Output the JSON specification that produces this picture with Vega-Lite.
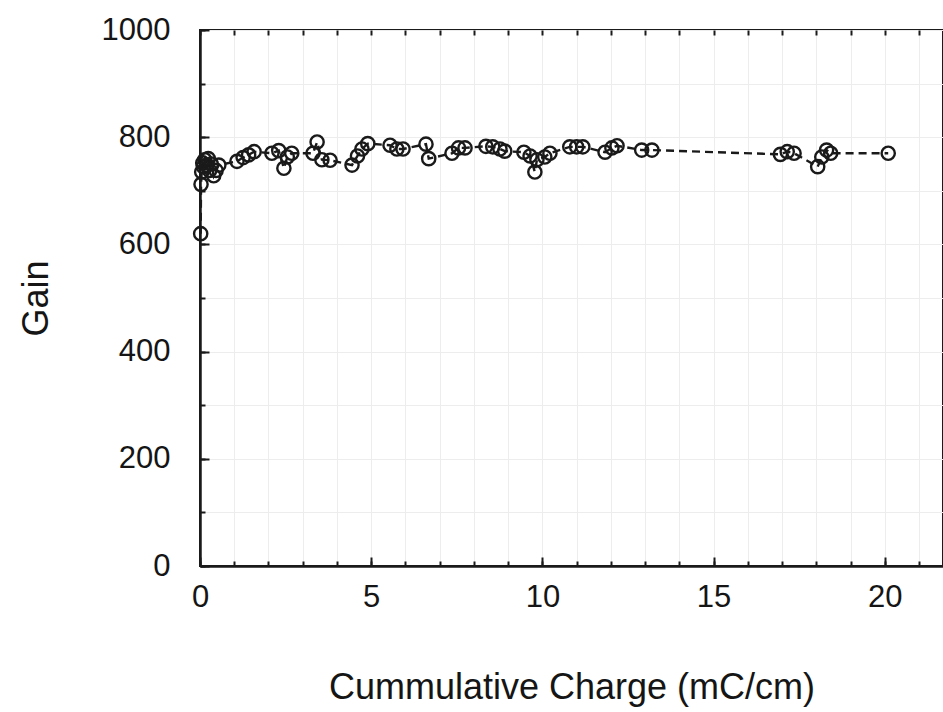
{
  "$schema": "https://vega.github.io/schema/vega-lite/v6.json",
  "autosize": "none",
  "width": 743,
  "height": 536,
  "padding": {"left": 200, "top": 30, "right": 0, "bottom": 146},
  "background": "white",
  "config": {
    "view": {"stroke": "#1a1a1a", "strokeWidth": 2},
    "axis": {
      "labelFont": "Liberation Sans",
      "titleFont": "Liberation Sans",
      "labelColor": "#151515",
      "titleColor": "#151515",
      "labelFontWeight": "normal",
      "titleFontWeight": "normal",
      "domainColor": "#1a1a1a",
      "domainWidth": 2,
      "tickColor": "#1a1a1a",
      "tickWidth": 2,
      "gridColor": "#ededed",
      "gridWidth": 1
    }
  },
  "data": {"values": [
    {"q": 0.02, "gain": 620}, {"q": 0.03, "gain": 712}, {"q": 0.05, "gain": 735}, {"q": 0.08, "gain": 752},
    {"q": 0.1, "gain": 745}, {"q": 0.14, "gain": 758}, {"q": 0.2, "gain": 748}, {"q": 0.24, "gain": 760},
    {"q": 0.28, "gain": 738}, {"q": 0.33, "gain": 750}, {"q": 0.4, "gain": 728}, {"q": 0.47, "gain": 738},
    {"q": 0.55, "gain": 748},
    {"q": 1.08, "gain": 755}, {"q": 1.26, "gain": 762}, {"q": 1.42, "gain": 767}, {"q": 1.58, "gain": 773},
    {"q": 2.1, "gain": 770}, {"q": 2.3, "gain": 775}, {"q": 2.45, "gain": 742}, {"q": 2.55, "gain": 763}, {"q": 2.68, "gain": 770},
    {"q": 3.3, "gain": 770}, {"q": 3.42, "gain": 791}, {"q": 3.56, "gain": 758}, {"q": 3.8, "gain": 757},
    {"q": 4.44, "gain": 748}, {"q": 4.6, "gain": 765}, {"q": 4.73, "gain": 778}, {"q": 4.9, "gain": 788},
    {"q": 5.55, "gain": 785}, {"q": 5.75, "gain": 778}, {"q": 5.93, "gain": 778},
    {"q": 6.6, "gain": 787}, {"q": 6.68, "gain": 760},
    {"q": 7.36, "gain": 770}, {"q": 7.55, "gain": 780}, {"q": 7.74, "gain": 780},
    {"q": 8.35, "gain": 783}, {"q": 8.55, "gain": 782}, {"q": 8.76, "gain": 778}, {"q": 8.9, "gain": 774},
    {"q": 9.46, "gain": 772}, {"q": 9.64, "gain": 765}, {"q": 9.78, "gain": 735}, {"q": 9.84, "gain": 758},
    {"q": 10.07, "gain": 763}, {"q": 10.22, "gain": 770},
    {"q": 10.8, "gain": 782}, {"q": 11.0, "gain": 782}, {"q": 11.18, "gain": 782},
    {"q": 11.83, "gain": 772}, {"q": 12.03, "gain": 780}, {"q": 12.18, "gain": 784},
    {"q": 12.9, "gain": 776}, {"q": 13.2, "gain": 776},
    {"q": 16.95, "gain": 768}, {"q": 17.15, "gain": 773}, {"q": 17.35, "gain": 770},
    {"q": 18.04, "gain": 745}, {"q": 18.16, "gain": 763}, {"q": 18.3, "gain": 776}, {"q": 18.42, "gain": 770},
    {"q": 20.1, "gain": 770}
  ]},
  "resolve": {"axis": {"x": "independent", "y": "independent"}},
  "layer": [
    {
      "mark": {"type": "line", "color": "#1a1a1a", "strokeWidth": 2.4, "strokeDash": [8, 5]},
      "encoding": {
        "x": {"field": "q", "type": "quantitative",
              "scale": {"domain": [0, 21.7], "nice": false, "zero": false},
              "axis": {"orient": "bottom", "values": [0,1,2,3,4,5,6,7,8,9,10,11,12,13,14,15,16,17,18,19,20,21],
                       "labels": false, "tickSize": -5, "grid": true, "title": null}},
        "y": {"field": "gain", "type": "quantitative",
              "scale": {"domain": [0, 1000], "nice": false},
              "axis": {"orient": "left", "values": [0,100,200,300,400,500,600,700,800,900,1000],
                       "labels": false, "tickSize": -5, "grid": true, "title": null}}
      }
    },
    {
      "mark": {"type": "point", "shape": "circle", "filled": false, "color": "#1a1a1a", "strokeWidth": 2.4, "size": 175, "opacity": 1},
      "encoding": {
        "x": {"field": "q", "type": "quantitative",
              "axis": {"orient": "bottom", "values": [0, 5, 10, 15, 20], "tickSize": -9, "grid": false,
                       "labelFontSize": 31, "labelPadding": 25, "labelFlush": false, "format": "d",
                       "title": "Cummulative Charge (mC/cm)", "titleFontSize": 36,
                       "titleBaseline": "alphabetic", "titleY": 132}},
        "y": {"field": "gain", "type": "quantitative",
              "axis": {"orient": "left", "values": [0, 200, 400, 600, 800, 1000], "tickSize": -9, "grid": false,
                       "labelFontSize": 31, "labelPadding": 39, "labelFlush": false, "format": "d",
                       "title": "Gain", "titleFontSize": 36, "titleX": -145, "titleY": 268}}
      }
    },
    {
      "mark": {"type": "point", "opacity": 0},
      "encoding": {
        "x": {"field": "q", "type": "quantitative",
              "axis": {"orient": "top", "values": [0,1,2,3,4,5,6,7,8,9,10,11,12,13,14,15,16,17,18,19,20,21],
                       "labels": false, "tickSize": -5, "grid": false, "title": null, "domain": false}},
        "y": {"field": "gain", "type": "quantitative", "axis": null}
      }
    }
  ]
}
